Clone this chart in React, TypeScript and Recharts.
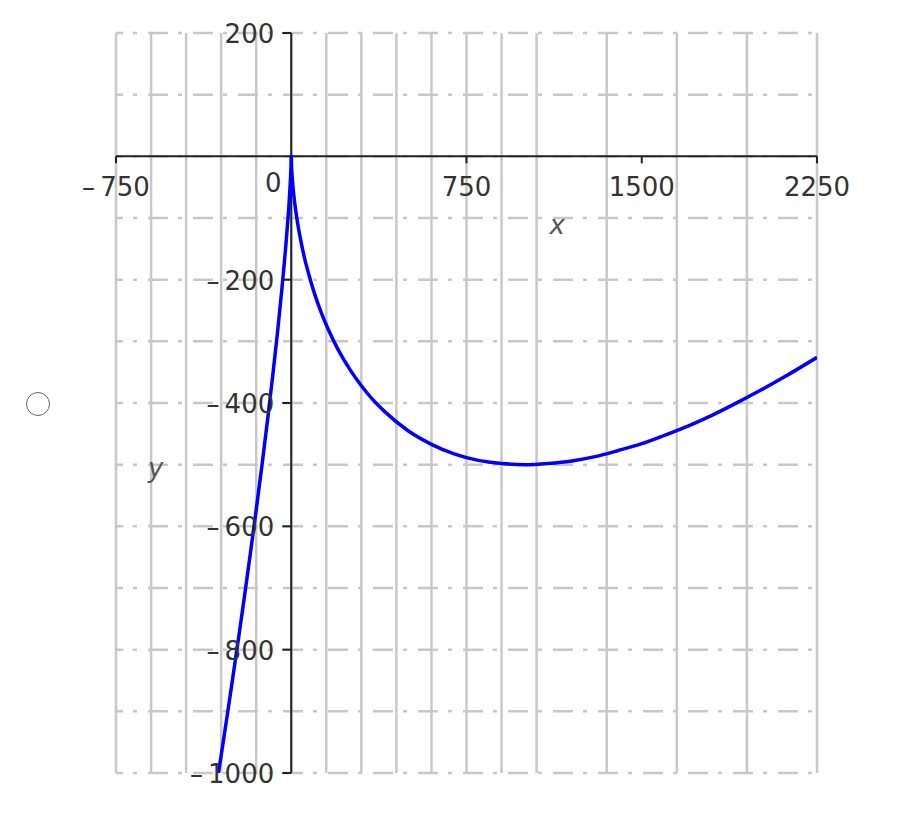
import React from 'react';
import { LineChart, Line, XAxis, YAxis, CartesianGrid, ReferenceLine, ReferenceDot } from 'recharts';

const xValues = [-312, -300, -275, -250, -225, -200, -175, -150, -125, -100, -80, -60, -40, -25, -15, -8, -3, -1, 0, 1, 3, 8, 15, 25, 40, 60, 80, 100, 130, 160, 200, 250, 300, 350, 400, 500, 600, 700, 800, 900, 1000, 1100, 1200, 1300, 1400, 1500, 1600, 1700, 1800, 1900, 2000, 2100, 2250];
const yValues = [-1000, -972, -909, -845, -780, -713, -644, -573, -500, -423, -358, -290, -215, -153, -106, -68, -34, -16, 0, -14, -28, -52, -76, -103, -135, -170, -198, -223, -255, -282, -313, -345, -372, -395, -414, -445, -467, -483, -493, -498, -500, -498, -494, -487, -477, -466, -452, -437, -420, -401, -381, -360, -326];

const xGridTicks = [-750, -600, -450, -300, -150, 0, 150, 300, 450, 600, 750, 900, 1050, 1200, 1350, 1500, 1650, 1800, 1950, 2100, 2250];
const yGridTicks = [-1000, -900, -800, -700, -600, -500, -400, -300, -200, -100, 0, 100, 200];

const xLabelTicks = [-750, 750, 1500, 2250];
const xLabelTexts = ['\u2013\u2009750', '750', '1500', '2250'];
const yLabelTicks = [200, -200, -400, -600, -800, -1000];
const yLabelTexts = ['200', '\u2013\u2009200', '\u2013\u2009400', '\u2013\u2009600', '\u2013\u2009800', '\u2013\u20091000'];

const data = xValues.map((x, i) => ({ x, y: yValues[i] }));

const FONT = 'DejaVu Sans, Verdana, sans-serif';
const TEXT = '#333';
const FS = 26;

const XTick = (label: string) => (props: any) => {
  const { cx, cy } = props;
  return (
    <g>
      <line x1={cx} y1={cy} x2={cx} y2={cy + 7} stroke="#222" strokeWidth={2} />
      <text x={cx} y={cy + 31} textAnchor="middle" dominantBaseline="central" fontFamily={FONT} fontSize={FS} fill={TEXT}>
        {label}
      </text>
    </g>
  );
};

const YTick = (label: string) => (props: any) => {
  const { cx, cy } = props;
  return (
    <g>
      <line x1={cx - 9} y1={cy} x2={cx} y2={cy} stroke="#222" strokeWidth={2} />
      <text x={cx - 17} y={cy + 1} textAnchor="end" dominantBaseline="central" fontFamily={FONT} fontSize={FS} fill={TEXT}>
        {label}
      </text>
    </g>
  );
};

const OriginLabel = (props: any) => {
  const { cx, cy } = props;
  return (
    <text x={cx - 18} y={cy + 27} textAnchor="middle" dominantBaseline="central" fontFamily={FONT} fontSize={FS} fill={TEXT}>
      0
    </text>
  );
};

const XName = (props: any) => {
  const { cx, cy } = props;
  return (
    <text x={cx + 3} y={cy + 69} textAnchor="middle" dominantBaseline="central" fontFamily={FONT} fontStyle="italic" fontSize={FS} fill="#555">
      x
    </text>
  );
};

const YName = (props: any) => {
  const { cx, cy } = props;
  return (
    <text x={cx} y={cy + 3} textAnchor="middle" dominantBaseline="central" fontFamily={FONT} fontStyle="italic" fontSize={FS} fill="#555">
      y
    </text>
  );
};

export default function App() {
  return (
    <div style={{ position: 'absolute', left: 0, top: 0, width: 901, height: 820, background: '#fff' }}>
      <div
        style={{
          position: 'absolute',
          left: 26,
          top: 392,
          width: 22,
          height: 22,
          borderRadius: '50%',
          border: '1.5px solid #666',
        }}
      />
      <LineChart width={901} height={820} data={data} margin={{ top: 33, right: 84, bottom: 47, left: 116 }}>
        <XAxis type="number" dataKey="x" domain={[-750, 2250]} ticks={xGridTicks} hide allowDataOverflow />
        <YAxis type="number" domain={[-1000, 200]} ticks={yGridTicks} hide allowDataOverflow />
        <CartesianGrid horizontal={false} stroke="#c8c8c8" strokeWidth={2.5} />
        <CartesianGrid vertical={false} stroke="#c8c8c8" strokeWidth={2.5} strokeDasharray="20 10 4 11" strokeDashoffset={13} />
        <ReferenceLine y={0} stroke="#222" strokeWidth={2} />
        <ReferenceLine x={0} stroke="#222" strokeWidth={2} />
        {xLabelTicks.map((t, i) => (
          <ReferenceDot key={'xt' + t} x={t} y={0} r={0} shape={XTick(xLabelTexts[i])} />
        ))}
        {yLabelTicks.map((t, i) => (
          <ReferenceDot key={'yt' + t} x={0} y={t} r={0} shape={YTick(yLabelTexts[i])} />
        ))}
        <ReferenceDot x={0} y={0} r={0} shape={OriginLabel} />
        <ReferenceDot x={1125} y={0} r={0} shape={XName} />
        <ReferenceDot x={-580} y={-500} r={0} shape={YName} />
        <Line type="monotone" dataKey="y" stroke="#0000ff" strokeWidth={3.5} dot={false} isAnimationActive={false} />
      </LineChart>
    </div>
  );
}
